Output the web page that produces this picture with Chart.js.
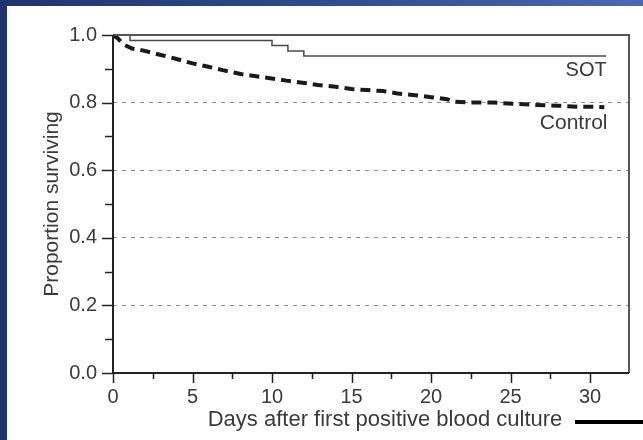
<!DOCTYPE html>
<html>
<head>
<meta charset="utf-8">
<script src="https://cdn.jsdelivr.net/npm/chart.js@4.4.0/dist/chart.umd.min.js"></script>
<style>
  html, body { margin: 0; padding: 0; background: #fff; }
  #marco { position: relative; width: 643px; height: 440px; overflow: hidden; background: #fff; }
  #grafico { position: absolute; left: 0; top: 0; }
  .franjaSup { position: absolute; left: 0; top: 0; width: 643px; height: 6px;
    background: linear-gradient(to right, #1f3570, #2e4889 45%, #4b69ae); }
  .franjaIzq { position: absolute; left: 0; top: 0; width: 7px; height: 440px; background: #1f3570; }
</style>
</head>
<body>
<div id="marco">
  <canvas id="grafico" width="643" height="440"></canvas>
  <div class="franjaSup"></div>
  <div class="franjaIzq"></div>
</div>
<script>
// Curva SOT (escalones)
const sotDias = [0, 1.07, 10.0, 11.0, 12.0, 31.0];
const sotSuperv = [1.0, 0.984, 0.969, 0.953, 0.938, 0.938];

// Curva Control
const controlDias = [0, 0.3, 0.5, 0.75, 1.2, 2, 3, 4, 5, 6, 6.9, 8.1, 9.1, 10.2, 10.9, 11.9, 12.9, 14,
  15, 16, 17, 17.9, 19, 20, 21, 21.4, 22.5, 23.9, 25.4, 26.6, 27.9, 29.2, 30.2, 30.9];
const controlSuperv = [1.0, 0.99, 0.98, 0.97, 0.96, 0.953, 0.941, 0.929, 0.916, 0.906, 0.896, 0.884, 0.877, 0.87,
  0.865, 0.859, 0.852, 0.847, 0.84, 0.837, 0.834, 0.827, 0.822, 0.816, 0.81, 0.803, 0.80, 0.80, 0.796,
  0.793, 0.791, 0.788, 0.788, 0.786];

// Ejes
const diasMax = 32.45;
const pasoX = 2.5;
const pasoY = 0.1;
const lineasGuia = [0.2, 0.4, 0.6, 0.8];

const colorTexto = '#3a3a3a';
const fuente = 'Liberation Sans, Arial, sans-serif';

const aPuntos = (xs, ys) => xs.map((d, i) => ({ x: d, y: ys[i] }));
const esMultiplo = (v, m) => Math.abs(v / m - Math.round(v / m)) < 1e-6;

// Dibuja caja, ejes, marcas y etiquetas de texto
const marcoPlugin = {
  id: 'marcoPlugin',
  afterDraw(chart) {
    const { ctx, chartArea: a, scales: { x, y } } = chart;
    ctx.save();
    ctx.lineCap = 'butt';

    ctx.strokeStyle = '#555';
    ctx.lineWidth = 2;
    ctx.beginPath();
    ctx.moveTo(a.left, a.top);
    ctx.lineTo(a.right, a.top);
    ctx.lineTo(a.right, a.bottom);
    ctx.stroke();

    ctx.strokeStyle = '#222';
    ctx.beginPath();
    ctx.moveTo(a.left, a.top);
    ctx.lineTo(a.left, a.bottom);
    ctx.lineTo(a.right, a.bottom);
    ctx.stroke();

    ctx.lineWidth = 1.5;
    x.ticks.forEach(t => {
      const px = Math.round(x.getPixelForValue(t.value)) + 0.5;
      const largo = esMultiplo(t.value, 5) ? 10 : 6;
      ctx.beginPath();
      ctx.moveTo(px, a.bottom);
      ctx.lineTo(px, a.bottom + largo);
      ctx.stroke();
    });
    y.ticks.forEach(t => {
      const py = Math.round(y.getPixelForValue(t.value)) + 0.5;
      const largo = esMultiplo(t.value, 0.2) ? 11 : 8;
      ctx.beginPath();
      ctx.moveTo(a.left - largo, py);
      ctx.lineTo(a.left, py);
      ctx.stroke();
    });

    ctx.fillStyle = colorTexto;
    ctx.textAlign = 'right';
    ctx.textBaseline = 'middle';
    ctx.font = '20px ' + fuente;
    ctx.fillText('SOT', x.getPixelForValue(31.05), y.getPixelForValue(0.896));
    ctx.font = '21px ' + fuente;
    ctx.fillText('Control', x.getPixelForValue(31.1), y.getPixelForValue(0.74));

    ctx.textAlign = 'center';
    ctx.font = '22px ' + fuente;
    ctx.fillText('Days after first positive blood culture', (a.left + a.right) / 2 + 14, a.bottom + 47);

    ctx.strokeStyle = '#000';
    ctx.lineWidth = 4;
    ctx.beginPath();
    ctx.moveTo(575, a.bottom + 49);
    ctx.lineTo(chart.width, a.bottom + 49);
    ctx.stroke();
    ctx.restore();
  }
};

new Chart(document.getElementById('grafico').getContext('2d'), {
  type: 'line',
  data: {
    datasets: [{
      label: 'SOT',
      data: aPuntos(sotDias, sotSuperv),
      stepped: true,
      borderColor: '#4a4a4a',
      borderWidth: 1.5,
      pointRadius: 0,
      fill: false
    }, {
      label: 'Control',
      data: aPuntos(controlDias, controlSuperv),
      borderColor: '#1a1a1a',
      borderWidth: 4,
      borderDash: [10, 6],
      pointRadius: 0,
      tension: 0,
      fill: false
    }]
  },
  options: {
    responsive: false,
    animation: false,
    devicePixelRatio: 1,
    layout: { padding: { left: 0, top: 35, right: 14, bottom: 0 } },
    plugins: { legend: { display: false }, tooltip: { enabled: false } },
    scales: {
      x: {
        type: 'linear',
        min: 0,
        max: diasMax,
        afterFit: s => { s.height = 67; },
        grid: { display: false, drawTicks: false },
        border: { display: false },
        ticks: {
          stepSize: pasoX,
          includeBounds: false,
          autoSkip: false,
          maxRotation: 0,
          padding: 12,
          color: colorTexto,
          font: { family: fuente, size: 20 },
          callback: v => esMultiplo(v, 5) ? String(Math.round(v)) : ''
        }
      },
      y: {
        min: 0,
        max: 1,
        afterFit: s => { s.width = 113; },
        grid: {
          drawTicks: false,
          lineWidth: 1,
          color: c => lineasGuia.some(g => Math.abs(g - c.tick.value) < 1e-6) ? '#8a8a8a' : 'rgba(0,0,0,0)'
        },
        border: { display: false, dash: [4, 5] },
        title: {
          display: true,
          text: 'Proportion surviving',
          color: colorTexto,
          font: { family: fuente, size: 21 },
          padding: { top: 40, bottom: 0 }
        },
        ticks: {
          stepSize: pasoY,
          autoSkip: false,
          padding: 16,
          color: colorTexto,
          font: { family: fuente, size: 20 },
          callback: v => esMultiplo(v, 0.2) ? v.toFixed(1) : ''
        }
      }
    }
  },
  plugins: [marcoPlugin]
});
</script>
</body>
</html>
